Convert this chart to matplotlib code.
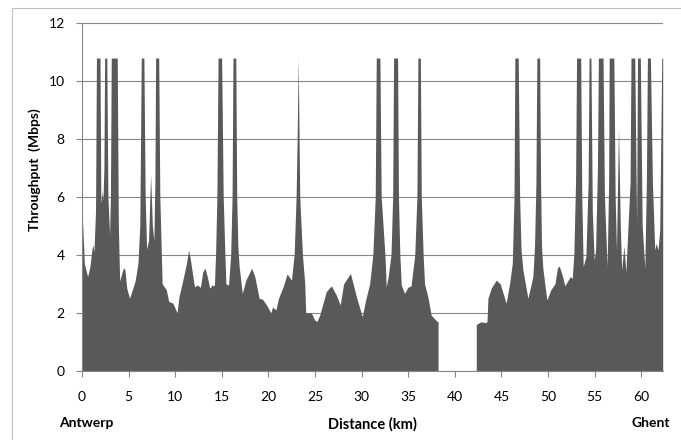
import matplotlib
matplotlib.use("Agg")
import matplotlib.pyplot as plt
from matplotlib.patches import Rectangle
import numpy as np

# --- data: Antwerp -> Ghent, gap between 38.2 and 42.3 km ---
dist_a = [0.0, 0.25, 0.6, 0.85, 1.07, 1.17, 1.28, 1.45, 1.55, 1.93, 2.02, 2.07, 2.15, 2.25, 2.35,
          2.43, 2.66, 2.78, 2.96, 3.05, 3.14, 3.78, 3.9, 4.04, 4.3, 4.46, 4.6, 4.8, 5.1, 5.4,
          5.7, 6.0, 6.2, 6.36, 6.64, 6.78, 6.93, 7.14, 7.36, 7.55, 7.71, 7.82, 7.9, 8.23, 8.35,
          8.6, 9.04, 9.3, 9.75, 10.2, 10.4, 10.8, 11.2, 11.43, 11.6, 11.9, 12.07, 12.4, 12.7,
          12.96, 13.2, 13.44, 13.7, 13.97, 14.2, 14.33, 14.47, 14.6, 14.98, 15.15, 15.33, 15.44,
          15.72, 15.95, 16.1, 16.2, 16.5, 16.6, 16.72, 16.86, 17.2, 17.58, 18.2, 18.54, 19.0,
          19.36, 19.8, 20.26, 20.44, 20.8, 21.08, 21.58, 22.0, 22.47, 22.76, 22.97, 23.08, 23.2,
          23.29, 23.36, 23.65, 23.9, 24.0, 24.26, 24.6, 24.97, 25.2, 25.5, 25.86, 26.2, 26.75,
          27.3, 27.7, 28.07, 28.8, 29.43, 30.07, 30.43, 30.86, 31.2, 31.46, 31.57, 31.96, 32.1,
          32.5, 32.64, 32.85, 33.15, 33.33, 33.43, 33.86, 33.95, 34.1, 34.25, 34.6, 34.96, 35.3,
          35.7, 35.93, 36.04, 36.3, 36.4, 36.6, 36.75, 37.1, 37.46, 37.8, 38.1, 38.2]
mbps_a = [5.6, 3.7, 3.25, 3.6, 4.2, 4.35, 4.1, 5.5, 10.8, 10.8, 6.0, 5.8, 6.2, 5.9, 7.0,
          10.8, 10.8, 6.0, 4.7, 6.0, 10.8, 10.8, 5.0, 3.1, 3.4, 3.55, 3.5, 2.85, 2.5, 2.8,
          3.1, 3.7, 5.0, 10.8, 10.8, 6.0, 4.2, 4.5, 6.76, 5.0, 4.5, 6.5, 10.8, 10.8, 6.0,
          3.0, 2.8, 2.4, 2.33, 2.0, 2.55, 3.1, 3.7, 4.17, 3.9, 3.25, 2.9, 2.96, 2.88,
          3.42, 3.54, 3.25, 2.85, 2.96, 2.93, 4.0, 6.0, 10.8, 10.8, 6.0, 4.0, 3.0,
          2.96, 4.0, 6.0, 10.8, 10.8, 6.0, 4.3, 3.6, 2.67, 3.13, 3.54, 3.25, 2.5,
          2.47, 2.27, 2.0, 2.2, 2.1, 2.5, 2.9, 3.34, 3.13, 4.0, 6.0, 8.0, 10.8,
          8.0, 6.0, 4.0, 3.0, 2.0, 2.0, 2.0, 1.75, 1.7, 1.92, 2.33, 2.73, 2.93,
          2.6, 2.27, 3.0, 3.36, 2.56, 1.87, 2.44, 3.0, 4.0, 6.0, 10.8, 10.8, 6.0,
          4.0, 2.9, 3.25, 4.0, 6.0, 10.8, 10.8, 6.0, 4.0, 2.96, 2.67, 2.88, 2.93,
          4.0, 6.0, 10.8, 10.8, 6.0, 4.0, 3.0, 2.56, 1.92, 1.8, 1.7, 1.7]

dist_b = [42.3, 42.8, 43.3, 43.45, 43.55, 43.9, 44.44, 44.87, 45.5, 45.87, 46.16, 46.35, 46.44,
          46.8, 46.95, 47.1, 47.3, 47.84, 48.37, 48.55, 48.7, 48.8, 49.1, 49.2, 49.3, 49.44,
          49.87, 50.3, 50.74, 51.0, 51.2, 51.56, 51.8, 52.16, 52.4, 52.6, 52.77, 52.95, 53.06,
          53.5, 53.62, 53.77, 54.06, 54.3, 54.4, 54.6, 54.75, 54.95, 55.1, 55.3, 55.4, 55.9,
          56.05, 56.34, 56.5, 56.56, 57.06, 57.2, 57.34, 57.56, 57.75, 57.9, 58.13, 58.35, 58.8,
          58.9, 59.3, 59.5, 59.6, 59.9, 60.1, 60.38, 60.55, 60.66, 60.98, 61.2, 61.45, 61.6,
          61.8, 61.98, 62.2, 62.3]
mbps_b = [1.6, 1.69, 1.66, 1.7, 2.5, 2.85, 3.13, 3.0, 2.33, 3.0, 3.7, 6.0, 10.8,
          10.8, 6.0, 4.2, 3.48, 2.5, 3.25, 4.3, 6.5, 10.8, 10.8, 6.5, 4.3, 3.54,
          2.44, 2.8, 3.0, 3.54, 3.62, 3.25, 2.93, 3.13, 3.25, 3.19, 4.06, 6.5, 10.8,
          10.8, 6.0, 3.6, 3.94, 6.5, 10.8, 10.8, 5.5, 3.82, 4.17, 7.0, 10.8, 10.8,
          6.0, 3.6, 6.5, 10.8, 10.8, 6.0, 4.17, 8.4, 5.0, 3.48, 4.3, 3.42, 6.5,
          10.8, 10.8, 5.1, 10.8, 10.8, 5.0, 3.54, 6.5, 10.8, 10.8, 6.47, 4.17, 4.4,
          4.17, 4.86, 10.8, 10.8]

y_ticks = [0, 2, 4, 6, 8, 10, 12]
x_ticks = [0, 5, 10, 15, 20, 25, 30, 35, 40, 45, 50, 55, 60]

fill_color = "#595959"
grid_color = "#868686"

plt.rcParams['font.family'] = ['Lato', 'DejaVu Sans']

fig = plt.figure(figsize=(6.81, 4.40), dpi=100)
# chart area border (Excel style)
fig.patches.append(Rectangle((12 / 681, -0.1), 1.2, (440 - 8) / 440 + 0.1,
                             transform=fig.transFigure, fill=False,
                             edgecolor="#c0c0c0", linewidth=0.8))

ax = fig.add_axes([82 / 681, (440 - 370.7) / 440, (662.7 - 82) / 681, (370.7 - 23.3) / 440])

ax.fill_between(dist_a, 0, mbps_a, color=fill_color, linewidth=0)
ax.fill_between(dist_b, 0, mbps_b, color=fill_color, linewidth=0)

ax.set_xlim(0, 62.3)
ax.set_ylim(0, 12)
ax.set_yticks(y_ticks)
ax.set_xticks(x_ticks)
ax.tick_params(axis='y', length=4.5, width=0.8, color=grid_color, labelsize=10, pad=8)
ax.tick_params(axis='x', length=4.5, width=0.8, color=grid_color, labelsize=10, pad=10)

ax.grid(axis='y', color=grid_color, linewidth=0.8)
ax.set_axisbelow(True)
for side in ['top', 'right']:
    ax.spines[side].set_visible(False)
for side in ['left', 'bottom']:
    ax.spines[side].set_color(grid_color)
    ax.spines[side].set_linewidth(0.8)

fig.text(35 / 681, 1 - 170 / 440, "Throughput  (Mbps)", rotation=90, fontsize=10,
         fontweight='bold', ha='center', va='center')
fig.text(372.5 / 681, 1 - 424 / 440, "Distance (km)", fontsize=10.5, fontweight='bold',
         ha='center', va='center')
fig.text(59 / 681, 1 - 423 / 440, "Antwerp", fontsize=10, fontweight='bold',
         ha='left', va='center')
fig.text(670 / 681, 1 - 423 / 440, "Ghent", fontsize=10, fontweight='bold',
         ha='right', va='center')

fig.savefig("out.png", dpi=100)
